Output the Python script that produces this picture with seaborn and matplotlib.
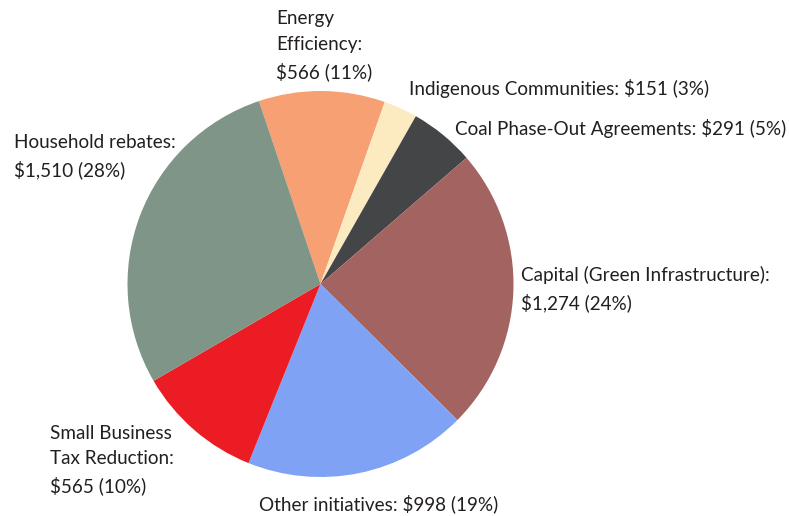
import matplotlib
matplotlib.use("Agg")
import matplotlib.pyplot as plt
import seaborn as sns

categories = ["Energy Efficiency", "Indigenous Communities", "Coal Phase-Out Agreements",
              "Capital (Green Infrastructure)", "Other initiatives",
              "Small Business Tax Reduction", "Household rebates"]
values = [566, 151, 291, 1274, 998, 565, 1510]
percents = [11, 3, 5, 24, 19, 10, 28]
label_texts = ["Energy\nEfficiency:\n$566 (11%)",
               "Indigenous Communities: $151 (3%)",
               "Coal Phase-Out Agreements: $291 (5%)",
               "Capital (Green Infrastructure):\n$1,274 (24%)",
               "Other initiatives: $998 (19%)",
               "Small Business\nTax Reduction:\n$565 (10%)",
               "Household rebates:\n$1,510 (28%)"]
colors = ["#f7a073", "#fcebc1", "#444547", "#a36461", "#80a2f5", "#ec1c24", "#7f9587"]

sns.set_style("white")
plt.rcParams['font.family'] = ['Lato', 'DejaVu Sans']

W, H = 789, 516
fig = plt.figure(figsize=(W / 100, H / 100), dpi=100)
ax = fig.add_axes([0, 0, 1, 1])
ax.set_xlim(0, W)
ax.set_ylim(0, H)
ax.axis("off")

cx, cy, r = 320.5, H - 284, 193
ax.pie(values, colors=sns.color_palette(colors), startangle=108.6, counterclock=False,
       center=(cx, cy), radius=r, wedgeprops=dict(linewidth=0), frame=True)
ax.set_xlim(0, W)
ax.set_ylim(0, H)
ax.axis("off")

# label anchor positions (left x, vertical centre y in pixels from top)
label_pos = [(276, 45.5), (409, 88), (455, 129), (521, 289), (259, 504), (50, 460), (14, 156.5)]
for txt, (x, y) in zip(label_texts, label_pos):
    ax.text(x, H - y, txt, ha="left", va="center", fontsize=13.6, color="#231f20",
            linespacing=1.6)

fig.savefig("out.png", dpi=100)
